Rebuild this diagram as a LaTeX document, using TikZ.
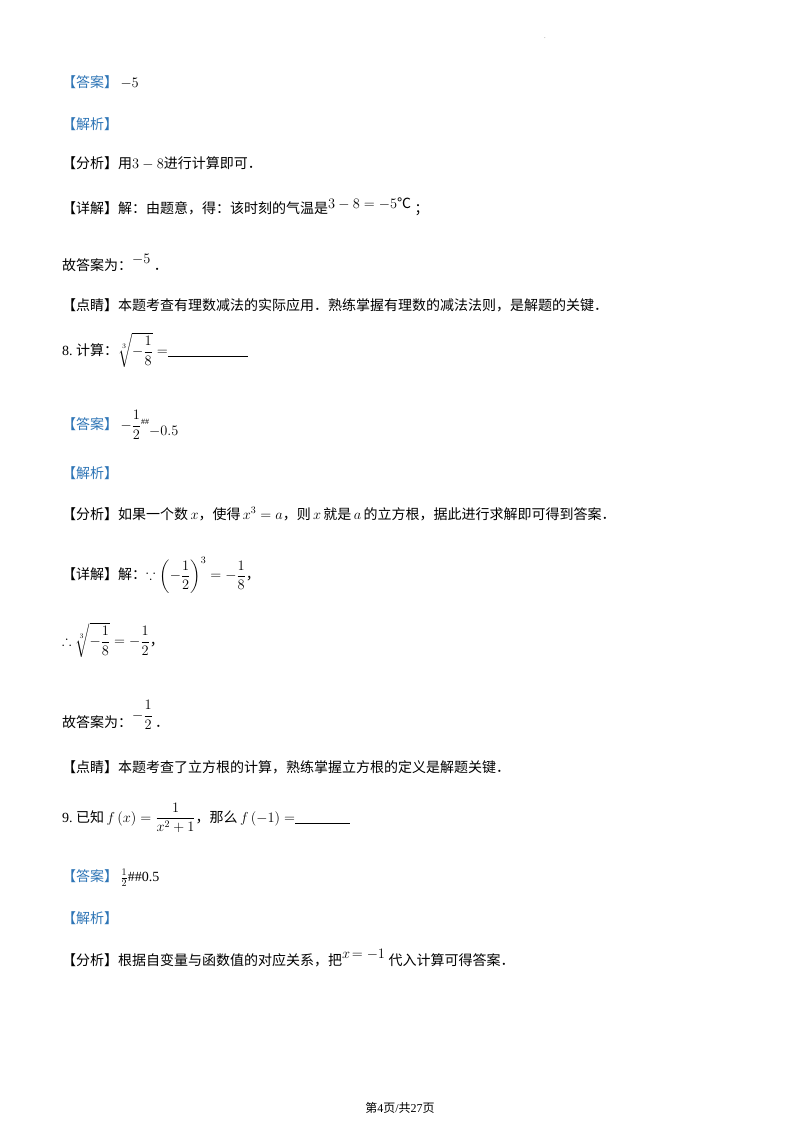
\documentclass[tikz,border=0pt]{standalone}
\usepackage{amsmath,amssymb}
\usepackage{fontspec}
\setmainfont{Liberation Serif}
\newfontfamily\cjk{Noto Sans CJK SC}
\definecolor{ansblue}{RGB}{46,117,182}
\newcommand{\C}[1]{{\cjk #1}}
\newcommand{\btag}[1]{{\color{ansblue}\cjk 【#1】}}
\newcommand{\ktag}[1]{{\cjk 【#1】}}
\begin{document}
\begin{tikzpicture}[x=1pt,y=-1pt,
  ln/.style={anchor=west,inner sep=0pt,font=\fontsize{14}{17}\selectfont}]
\useasboundingbox (0,0) rectangle (800,1132);
\fill[white] (0,0) rectangle (800,1132);
\node[inner sep=0pt,font=\tiny] (dot) at (545,38) {.};
\node[ln] (l1) at (62,82) {\btag{答案}\,$-5$};
\node[ln] (l2) at (62,124) {\btag{解析}};
\node[ln] (l3) at (62,163) {\ktag{分析}\C{用}$3-8$\C{进行计算即可．}};
\node[ln] (l4) at (62,207) {\ktag{详解}\C{解：由题意，得：该时刻的气温是}\raisebox{5pt}{$3-8=-5$\C{℃}}\ \C{；}};
\node[ln] (l5) at (62,263) {\C{故答案为：}\raisebox{7pt}{$-5$}\ \C{．}};
\node[ln] (l6) at (62,305) {\ktag{点睛}\C{本题考查有理数减法的实际应用．熟练掌握有理数的减法法则，是解题的关键．}};
\node[ln] (l7) at (62,350) {8.\ \C{计算：}$\sqrt[3]{-\dfrac{1}{8}}=$\rule[-1pt]{80pt}{0.5pt}．};
\node[ln] (l8) at (62,425) {\btag{答案}\,$-\dfrac{1}{2}$\raisebox{5pt}{\footnotesize\#\#}\raisebox{-6pt}{$-0.5$}};
\node[ln] (l9) at (62,473) {\btag{解析}};
\node[ln] (l10) at (62,514) {\ktag{分析}\C{如果一个数}\,$x$\C{，使得}\,$x^3=a$\C{，则}\,$x$\,\C{就是}\,$a$\,\C{的立方根，据此进行求解即可得到答案．}};
\node[ln] (l11) at (62,575) {\ktag{详解}\C{解：}$\because\left(-\dfrac{1}{2}\right)^3=-\dfrac{1}{8}$\C{，}};
\node[ln] (l12) at (62,640) {$\therefore\sqrt[3]{-\dfrac{1}{8}}=-\dfrac{1}{2}$\C{，}};
\node[ln] (l13) at (62,715) {\C{故答案为：}\raisebox{8pt}{$-\dfrac{1}{2}$}\,\C{．}};
\node[ln] (l14) at (62,767) {\ktag{点睛}\C{本题考查了立方根的计算，熟练掌握立方根的定义是解题关键．}};
\node[ln] (l15) at (62,818) {9.\ \C{已知}\,$f\left(x\right)=\dfrac{1}{x^2+1}$\C{，那么}\,$f\left(-1\right)=$\rule[-1pt]{55pt}{0.5pt}．};
\node[ln] (l16) at (62,878) {\btag{答案}\,$\frac{1}{2}$\#\#0.5};
\node[ln] (l17) at (62,918) {\btag{解析}};
\node[ln] (l18) at (62,958) {\ktag{分析}\C{根据自变量与函数值的对应关系，把}\raisebox{7pt}{$x\!=-1$}\ \C{代入计算可得答案．}};
\node[inner sep=0pt,font=\fontsize{12}{14}\selectfont] (foot) at (400,1108) {\C{第}4\C{页}/\C{共}27\C{页}};
\end{tikzpicture}
\end{document}
